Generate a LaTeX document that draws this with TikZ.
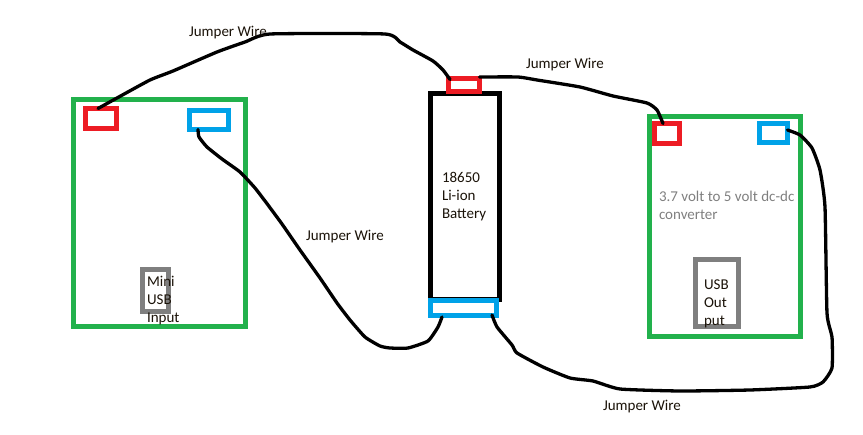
\documentclass[tikz,border=0pt]{standalone}
\usepackage{fontspec}
\setmainfont{Carlito}
\definecolor{paintgreen}{HTML}{22B14C}
\definecolor{paintred}{HTML}{ED1C24}
\definecolor{paintblue}{HTML}{00A2E8}
\definecolor{paintgrey}{HTML}{7F7F7F}
\definecolor{inktext}{HTML}{1A1208}
\tikzset{
  box/.style={draw=#1,line width=5pt,rectangle,inner sep=0pt,outer sep=0pt},
  wire/.style={draw=black,line width=3.3pt,line cap=round,line join=round},
  caption/.style={anchor=north west,inner sep=0pt,outer sep=0pt,align=left,
    text=inktext,font=\fontsize{15}{18}\selectfont},
}
\begin{document}
\begin{tikzpicture}[x=1pt,y=-1pt]
\useasboundingbox (0,0) rectangle (863,435);
% left charger board
\node[box=paintgreen,minimum width=172pt,minimum height=227pt] (boardL) at (159.5,213) {};
\node[box=paintred,minimum width=31pt,minimum height=20pt] (plusL) at (101,118.5) {};
\node[box=paintblue,minimum width=39pt,minimum height=19pt] (minusL) at (209,120) {};
\node[box=paintgrey,minimum width=26pt,minimum height=42pt] (usbL) at (155.5,290.5) {};
% battery cell with its two terminals
\node[box=black,minimum width=69.5pt,minimum height=206pt] (cell) at (464.75,196.5) {};
\node[box=paintblue,minimum width=66pt,minimum height=15pt] (minusB) at (463.5,308.5) {};
\node[box=paintred,minimum width=31pt,minimum height=13pt] (plusB) at (464,85) {};
% right converter board
\node[box=paintgreen,minimum width=151pt,minimum height=220pt] (boardR) at (725,226.5) {};
\node[box=paintred,minimum width=25pt,minimum height=20pt] (plusR) at (667,133.5) {};
\node[box=paintblue,minimum width=28pt,minimum height=19pt] (minusR) at (773.5,133) {};
\node[box=paintgrey,minimum width=43pt,minimum height=67pt] (usbR) at (717,293) {};
% wires
\draw[wire] plot[smooth,tension=0.3] coordinates {([xshift=-3pt]plusL.north)
  (117,98) (150,80) (173,71) (217,52) (245,42) (270,34) (385,34) (400,42) (413,50)
  (433,61) (443,70) ([xshift=-14pt,yshift=-1pt]plusB.north)};
\draw[wire] plot[smooth,tension=0.3] coordinates {([yshift=8pt]plusB.east)
  (518,77) (537,80) (580,87) (613,96) (647,103) (657,110) ([xshift=-4pt]plusR.north)};
\draw[wire] plot[smooth,tension=0.3] coordinates {([xshift=-11pt]minusL.south)
  (199,137) (207,147) (222,159) (240,172) (255,188) (268,205) (282,224) (300,250) (320,278)
  (337,303) (350,320) (365,337) (380,346) (390,348) (408,348) (428,341) (438,327)
  ([xshift=-21.5pt,yshift=-1pt]minusB.south)};
\draw[wire] plot[smooth,tension=0.3] coordinates {([xshift=28.5pt,yshift=1pt]minusB.south)
  (497,327) (512,345) (517,353) (543,367) (570,378) (593,381) (620,389) (680,391)
  (750,390) (810,387) (823,382) (832,368) (832,337) (827,313) (825,207) (820,170)
  (812,148) (800,135) ([yshift=3pt]minusR.east)};
% labels
\node[caption] (j1) at (189,26) {Jumper Wire};
\node[caption] (j2) at (526,58) {Jumper Wire};
\node[caption] (j3) at (306,230) {Jumper Wire};
\node[caption] (j4) at (603,400) {Jumper Wire};
\node[caption] (tcell) at (442,172) {18650\\Li-ion\\Battery};
\node[caption] (tusbL) at (147,276) {Mini\\USB\\Input};
\node[caption,text=paintgrey] (tconv) at (659,191) {3.7 volt to 5 volt dc-dc\\converter};
\node[caption] (tusbR) at (704,280) {USB\\Out\\put};
\end{tikzpicture}
\end{document}
